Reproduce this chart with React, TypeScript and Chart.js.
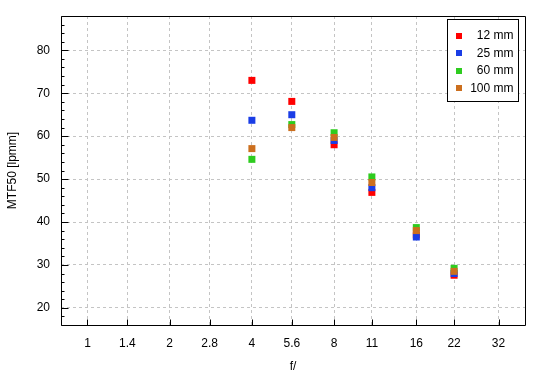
import { useEffect, useRef } from "react";
import { Chart, registerables } from "chart.js";

Chart.register(...registerables);

// ---- data ----
const F_STOPS = [1, 1.4, 2, 2.8, 4, 5.6, 8, 11, 16, 22, 32];
const F_LABELS = ["1", "1.4", "2", "2.8", "4", "5.6", "8", "11", "16", "22", "32"];
const MEASURED_F = [4, 5.6, 8, 11, 16, 22];
const SERIES_NAMES = ["12 mm", "25 mm", "60 mm", "100 mm"];
const MTF_12MM = [73.0, 68.1, 58.0, 46.9, 37.0, 27.6];
const MTF_25MM = [63.7, 65.0, 59.0, 48.0, 36.5, 28.0];
const MTF_60MM = [54.6, 62.7, 60.8, 50.5, 38.7, 29.2];
const MTF_100MM = [57.1, 62.0, 59.7, 49.2, 38.0, 28.5];
const SERIES_COLORS = ["#ff0000", "#1a3de6", "#2ecc1f", "#cc6f1e"];
const Y_MAJOR = [20, 30, 40, 50, 60, 70, 80];
const Y_MIN = 16;
const Y_MAX = 88;
const F_MIN = 0.8;
const F_MAX = 40;

const stopPos = (f: number) => 2 * Math.log2(f);
const FONT = "'Liberation Sans', Arial, Helvetica, sans-serif";

const framePlugin = {
  id: "frameTicks",
  afterDatasetsDraw(chart: any) {
    const { ctx, chartArea, scales } = chart;
    const { x, y } = scales;
    const L = Math.round(chartArea.left) + 0.5;
    const T = Math.round(chartArea.top) + 0.5;
    const R = Math.round(chartArea.right) + 0.5;
    const B = Math.round(chartArea.bottom) + 0.5;
    ctx.save();
    ctx.strokeStyle = "#000";
    ctx.lineWidth = 1;
    ctx.setLineDash([]);
    ctx.beginPath();
    ctx.rect(L, T, R - L, B - T);
    ctx.stroke();
    ctx.beginPath();
    for (let v = Y_MIN; v <= Y_MAX; v += 2) {
      const py = Math.round(y.getPixelForValue(v)) + 0.5;
      const len = v % 10 === 0 ? 7 : 3;
      ctx.moveTo(L, py);
      ctx.lineTo(L + len, py);
    }
    for (const f of F_STOPS) {
      const px = Math.round(x.getPixelForValue(stopPos(f))) + 0.5;
      ctx.moveTo(px, B);
      ctx.lineTo(px, B - 6);
    }
    ctx.stroke();
    ctx.restore();
  },
};

const legendPlugin = {
  id: "boxLegend",
  afterDraw(chart: any) {
    const { ctx, chartArea } = chart;
    const right = Math.round(chartArea.right) - 7 + 0.5;
    const left = right - 71;
    const top = Math.round(chartArea.top) + 3 + 0.5;
    const height = 82;
    ctx.save();
    ctx.fillStyle = "#fff";
    ctx.fillRect(left, top, right - left, height);
    ctx.strokeStyle = "#000";
    ctx.lineWidth = 1;
    ctx.setLineDash([]);
    ctx.strokeRect(left, top, right - left, height);
    ctx.font = `12px ${FONT}`;
    ctx.textAlign = "right";
    ctx.textBaseline = "middle";
    SERIES_NAMES.forEach((name, i) => {
      const cy = top + 16 + i * 17.5;
      ctx.fillStyle = SERIES_COLORS[i];
      ctx.fillRect(left + 8.5, Math.round(cy - 3), 6, 6);
      ctx.fillStyle = "#000";
      ctx.fillText(name, right - 5, cy + 0.5);
    });
    ctx.restore();
  },
};

export default function App() {
  const canvasRef = useRef<HTMLCanvasElement | null>(null);

  useEffect(() => {
    document.body.style.margin = "0";
    const canvas = canvasRef.current;
    if (!canvas) return;
    const allSeries = [MTF_12MM, MTF_25MM, MTF_60MM, MTF_100MM];
    const datasets = allSeries.map((vals, i) => ({
      label: SERIES_NAMES[i],
      data: MEASURED_F.map((f, j) => ({ x: stopPos(f), y: vals[j] })),
      backgroundColor: SERIES_COLORS[i],
      borderColor: SERIES_COLORS[i],
      borderWidth: 0,
      pointStyle: "rect" as const,
      pointRadius: 4.95,
      pointHoverRadius: 4.95,
      showLine: false,
      order: allSeries.length - i,
    }));

    const chart = new Chart(canvas, {
      type: "scatter",
      data: { datasets },
      options: {
        animation: false,
        responsive: false,
        maintainAspectRatio: false,
        devicePixelRatio: 1,
        layout: { padding: { left: 0, right: 25, top: 16, bottom: 0 } },
        plugins: {
          legend: { display: false },
          tooltip: { enabled: false },
        },
        scales: {
          x: {
            type: "linear",
            min: stopPos(F_MIN),
            max: stopPos(F_MAX),
            afterBuildTicks: (s: any) => {
              s.ticks = F_STOPS.map((f) => ({ value: stopPos(f) }));
            },
            afterFit: (s: any) => {
              s.height = 55;
              s.paddingLeft = 0;
              s.paddingRight = 0;
            },
            grid: { color: "#c4c4c4", lineWidth: 1, drawTicks: false },
            border: { display: false, dash: [3, 3] },
            ticks: {
              autoSkip: false,
              maxRotation: 0,
              padding: 11,
              color: "#000",
              font: { family: FONT, size: 12 },
              callback: (_v: any, i: number) => F_LABELS[i],
            },
            title: {
              display: true,
              text: "f/",
              color: "#000",
              font: { family: FONT, size: 12 },
              padding: { top: 0, bottom: 6 },
            },
          },
          y: {
            type: "linear",
            min: Y_MIN,
            max: Y_MAX,
            afterBuildTicks: (s: any) => {
              s.ticks = Y_MAJOR.map((v) => ({ value: v }));
            },
            afterFit: (s: any) => {
              s.width = 61;
              s.paddingTop = 0;
              s.paddingBottom = 0;
            },
            grid: { color: "#c4c4c4", lineWidth: 1, drawTicks: false },
            border: { display: false, dash: [3, 3] },
            ticks: {
              padding: 11,
              color: "#000",
              font: { family: FONT, size: 12 },
              callback: (v: any) => String(v),
            },
            title: {
              display: true,
              text: "MTF50 [lpmm]",
              color: "#000",
              font: { family: FONT, size: 12 },
              padding: { top: 5, bottom: 0 },
            },
          },
        },
      },
      plugins: [framePlugin, legendPlugin],
    } as any);

    return () => chart.destroy();
  }, []);

  return (
    <div style={{ width: 550, height: 380, background: "#fff" }}>
      <canvas ref={canvasRef} width={550} height={380} style={{ display: "block" }} />
    </div>
  );
}
